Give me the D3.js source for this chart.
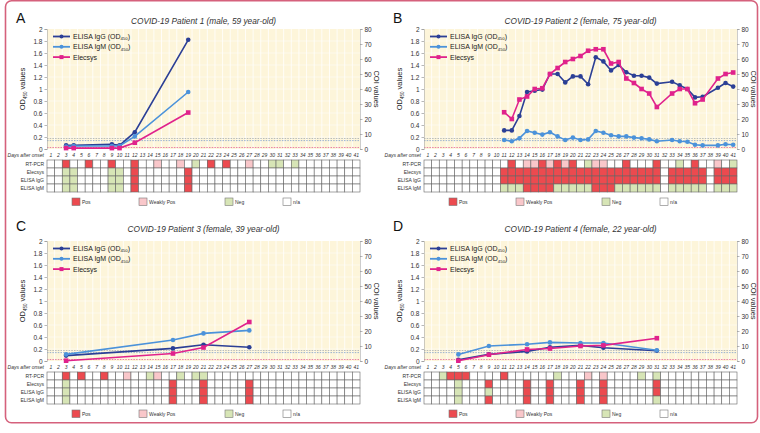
<!DOCTYPE html>
<html>
<head>
<meta charset="utf-8">
<script src="https://cdn.jsdelivr.net/npm/d3@7"></script>
<style>
  body { margin: 0; background: #fff; }
  svg { display: block; font-family: "Liberation Sans", Arial, sans-serif; }
</style>
</head>
<body>
<div id="chart"></div>
<script>
// Day categories (x axis / status grid columns)
var dayTicks = d3.range(1, 42);
var odTicks = [0, 0.2, 0.4, 0.6, 0.8, 1, 1.2, 1.4, 1.6, 1.8, 2];
var coiTicks = [0, 10, 20, 30, 40, 50, 60, 70, 80];
var rowNames = ['RT-PCR', 'Elecsys', 'ELISA IgG', 'ELISA IgM'];

// Patient 1
var aDays = [3, 4, 9, 10, 12, 19];
var aIgG = [0.06, 0.06, 0.08, 0.06, 0.28, 1.82];
var aIgM = [0.04, 0.05, 0.05, 0.05, 0.21, 0.95];
var aElecsys = [0.6, 0.6, 0.6, 0.6, 4.2, 24.3];
var aRtPcr = {P: [3, 6, 9, 12, 22, 24], W: [15, 18, 27], N: [20, 30, 31, 33]};
var aEcl = {P: [12, 19], W: [], N: [3, 4, 9, 10]};
var aGridIgG = {P: [12, 19], W: [], N: [3, 4, 9, 10]};
var aGridIgM = {P: [12, 19], W: [], N: [3, 4, 9, 10]};

// Patient 2
var bDays = [11, 12, 13, 14, 15, 16, 17, 18, 19, 20, 21, 22, 23, 24, 25, 26, 27, 28, 29, 30, 31, 33, 34, 35, 36, 37, 39, 40, 41];
var bIgG = [0.31, 0.31, 0.55, 0.95, 0.97, 0.99, 1.25, 1.25, 1.11, 1.21, 1.21, 1.08, 1.53, 1.46, 1.31, 1.40, 1.28, 1.22, 1.22, 1.19, 1.09, 1.12, 1.06, 1.0, 0.86, 0.87, 1.02, 1.10, 1.04];
var bIgM = [0.15, 0.13, 0.18, 0.30, 0.27, 0.24, 0.28, 0.21, 0.15, 0.19, 0.15, 0.16, 0.30, 0.27, 0.23, 0.21, 0.21, 0.19, 0.18, 0.16, 0.13, 0.15, 0.13, 0.12, 0.07, 0.06, 0.06, 0.08, 0.07];
var bElecsys = [24.5, 20, 33, 35, 40, 40.5, 50, 54, 58, 60, 62, 65.5, 66.5, 66.5, 57, 58, 47, 44, 40, 37, 28, 37, 40, 40, 30.5, 33, 47, 50, 51];
var bRtPcr = {P: [12, 16, 18, 20, 27, 31, 36], W: [14, 15, 17, 19, 23, 24, 39], N: [22, 34, 41]};
var bEcl = {P: [11, 12, 13, 14, 15, 16, 17, 18, 19, 20, 21, 22, 23, 24, 25, 26, 27, 28, 29, 30, 31, 33, 34, 35, 36, 37, 39, 40, 41], W: [], N: []};
var bGridIgG = {P: [11, 12, 13, 14, 15, 16, 17, 18, 19, 20, 21, 22, 23, 24, 25, 26, 27, 28, 29, 30, 31, 33, 34, 35, 36, 37, 39, 40, 41], W: [], N: []};
var bGridIgM = {P: [14, 15, 16, 17, 23, 24, 25], W: [], N: [11, 12, 13, 18, 19, 20, 21, 22, 26, 27, 28, 29, 30, 31, 33, 34, 35, 36, 37, 39, 40, 41]};

// Patient 3
var cDays = [3, 17, 21, 27];
var cIgG = [0.09, 0.21, 0.27, 0.23];
var cIgM = [0.11, 0.35, 0.46, 0.51];
var cElecsys = [0.2, 5, 9, 26];
var cRtPcr = {P: [3, 5, 8], W: [11, 15], N: [14, 18, 20, 21]};
var cEcl = {P: [17, 21, 27], W: [], N: [3]};
var cGridIgG = {P: [17, 21, 27], W: [], N: [3]};
var cGridIgM = {P: [17, 21, 27], W: [], N: [3]};

// Patient 4
var dDays = [5, 9, 14, 17, 21, 24, 31];
var dIgG = [0.02, 0.11, 0.16, 0.23, 0.26, 0.22, 0.17];
var dIgM = [0.11, 0.25, 0.28, 0.31, 0.30, 0.30, 0.18];
var dElecsys = [0.2, 4.2, 7.7, 8.3, 10, 10.4, 15.2];
var dRtPcr = {P: [4, 5, 6, 11], W: [22, 24], N: [3, 18, 29, 31]};
var dEcl = {P: [9, 14, 17, 21, 24, 31], W: [], N: [5]};
var dGridIgG = {P: [14, 17, 21, 24, 31], W: [], N: [5, 9]};
var dGridIgM = {P: [9, 14, 17, 21, 24], W: [], N: [5, 31]};

var panels = [
  {letter: 'A', title: 'COVID-19 Patient 1 (male, 59 year-old)', ox: 0, oy: 0, titleY: 24,
   days: aDays, igg: aIgG, igm: aIgM, ecl: aElecsys, grid: [aRtPcr, aEcl, aGridIgG, aGridIgM]},
  {letter: 'B', title: 'COVID-19 Patient 2 (female, 75 year-old)', ox: 377, oy: 0, titleY: 24,
   days: bDays, igg: bIgG, igm: bIgM, ecl: bElecsys, grid: [bRtPcr, bEcl, bGridIgG, bGridIgM]},
  {letter: 'C', title: 'COVID-19 Patient 3 (female, 39 year-old)', ox: 0, oy: 212, titleY: 20,
   days: cDays, igg: cIgG, igm: cIgM, ecl: cElecsys, grid: [cRtPcr, cEcl, cGridIgG, cGridIgM]},
  {letter: 'D', title: 'COVID-19 Patient 4 (female, 22 year-old)', ox: 377, oy: 212, titleY: 20,
   days: dDays, igg: dIgG, igm: dIgM, ecl: dElecsys, grid: [dRtPcr, dEcl, dGridIgG, dGridIgM]}
];

var colors = {igg: '#2b3f96', igm: '#4b92da', ecl: '#e0228c'};
var statusFill = {P: '#ec4a4f', W: '#f9c7ca', N: '#d7e5b6'};

var svg = d3.select('#chart').append('svg')
  .attr('width', 760)
  .attr('height', 433);

svg.append('rect')
  .attr('x', 5.5).attr('y', 0.8)
  .attr('width', 752).attr('height', 422)
  .attr('rx', 6)
  .attr('fill', 'none')
  .attr('stroke', '#d5617c')
  .attr('stroke-width', 1.6);

var margin = {left: 47, right: 360, top: 29, bottom: 149};

function drawPanel(p) {
  var g = svg.append('g').attr('transform', 'translate(' + p.ox + ',' + p.oy + ')');

  var x = d3.scaleBand().domain(dayTicks).range([margin.left, margin.right]);
  var bw = x.bandwidth();
  var yL = d3.scaleLinear().domain([0, 2]).range([margin.bottom, margin.top]);
  var yR = d3.scaleLinear().domain([0, 80]).range([margin.bottom, margin.top]);
  var cx = function(day) { return x(day) + bw / 2; };

  // panel letter + title
  g.append('text')
    .attr('x', 16).attr('y', p.titleY - 1)
    .attr('font-size', 14).attr('fill', '#111')
    .text(p.letter);
  g.append('text')
    .attr('x', (margin.left + margin.right) / 2).attr('y', p.titleY)
    .attr('text-anchor', 'middle')
    .attr('font-size', 8.3).attr('font-style', 'italic').attr('fill', '#333')
    .text(p.title);

  // plot background
  g.append('rect')
    .attr('x', margin.left).attr('y', margin.top)
    .attr('width', margin.right - margin.left).attr('height', margin.bottom - margin.top)
    .attr('fill', '#fdf5da');

  g.append('g').selectAll('line.v')
    .data(dayTicks.slice(1))
    .enter().append('line')
    .attr('x1', function(d) { return x(d); })
    .attr('x2', function(d) { return x(d); })
    .attr('y1', margin.top).attr('y2', margin.bottom)
    .attr('stroke', '#fff').attr('stroke-width', 0.8);

  g.append('g').selectAll('line.h')
    .data(odTicks.slice(1, -1))
    .enter().append('line')
    .attr('x1', margin.left).attr('x2', margin.right)
    .attr('y1', function(d) { return yL(d); })
    .attr('y2', function(d) { return yL(d); })
    .attr('stroke', '#fff').attr('stroke-width', 0.5);

  // cut-off lines
  g.append('line')
    .attr('x1', margin.left).attr('x2', margin.right)
    .attr('y1', yL(0.175)).attr('y2', yL(0.175))
    .attr('stroke', '#9aa3ad').attr('stroke-width', 0.7).attr('stroke-dasharray', '1.5 1.2');
  g.append('line')
    .attr('x1', margin.left).attr('x2', margin.right)
    .attr('y1', yL(0.14)).attr('y2', yL(0.14))
    .attr('stroke', '#6f94c8').attr('stroke-width', 0.7).attr('stroke-dasharray', '1.5 1.2');
  g.append('line')
    .attr('x1', margin.left).attr('x2', margin.right)
    .attr('y1', yR(1)).attr('y2', yR(1))
    .attr('stroke', '#e0508c').attr('stroke-width', 0.7).attr('stroke-dasharray', '1.5 1.2');

  // axes
  var left = g.append('g')
    .attr('transform', 'translate(' + margin.left + ',0)')
    .call(d3.axisLeft(yL).tickValues(odTicks).tickSize(2.5).tickPadding(2)
      .tickFormat(function(d) { return +d.toFixed(1); }));
  var right = g.append('g')
    .attr('transform', 'translate(' + margin.right + ',0)')
    .call(d3.axisRight(yR).tickValues(coiTicks).tickSize(2.5).tickPadding(2));
  [left, right].forEach(function(ax) {
    ax.select('.domain').attr('stroke', '#aaa').attr('stroke-width', 0.6);
    ax.selectAll('.tick line').attr('stroke', '#888').attr('stroke-width', 0.6);
    ax.selectAll('.tick text').attr('font-size', 6.5).attr('fill', '#333')
      .attr('font-family', '"Liberation Sans", Arial, sans-serif');
  });

  // axis titles
  var odTitle = g.append('text')
    .attr('transform', 'translate(25,' + (margin.top + margin.bottom) / 2 + ') rotate(-90)')
    .attr('text-anchor', 'middle')
    .attr('font-size', 7.5).attr('fill', '#222');
  odTitle.append('tspan').text('OD');
  odTitle.append('tspan').attr('font-size', 4.5).attr('dy', 2).text('450');
  odTitle.append('tspan').attr('dy', -2).text(' values');

  g.append('text')
    .attr('transform', 'translate(374,' + (margin.top + margin.bottom) / 2 + ') rotate(90)')
    .attr('text-anchor', 'middle')
    .attr('font-size', 7.5).attr('fill', '#222')
    .text('COI values');

  // series
  var series = [
    {key: 'igg', values: p.igg, scale: yL, shape: 'circle'},
    {key: 'igm', values: p.igm, scale: yL, shape: 'circle'},
    {key: 'ecl', values: p.ecl, scale: yR, shape: 'square'}
  ];

  series.forEach(function(s) {
    var pts = p.days.map(function(d, i) { return {day: d, v: s.values[i]}; });
    var line = d3.line()
      .x(function(d) { return cx(d.day); })
      .y(function(d) { return s.scale(d.v); });

    g.append('path')
      .datum(pts)
      .attr('fill', 'none')
      .attr('stroke', colors[s.key])
      .attr('stroke-width', 1.6)
      .attr('d', line);

    if (s.shape === 'circle') {
      g.append('g').selectAll('circle')
        .data(pts)
        .enter().append('circle')
        .attr('cx', function(d) { return cx(d.day); })
        .attr('cy', function(d) { return s.scale(d.v); })
        .attr('r', 2.3)
        .attr('fill', colors[s.key]);
    } else {
      g.append('g').selectAll('rect')
        .data(pts)
        .enter().append('rect')
        .attr('x', function(d) { return cx(d.day) - 2.3; })
        .attr('y', function(d) { return s.scale(d.v) - 2.3; })
        .attr('width', 4.6).attr('height', 4.6)
        .attr('fill', colors[s.key]);
    }
  });

  // legend inside plot
  var legendItems = [
    {key: 'igg', label: 'ELISA IgG (OD', sub: '450', shape: 'circle'},
    {key: 'igm', label: 'ELISA IgM (OD', sub: '450', shape: 'circle'},
    {key: 'ecl', label: 'Elecsys', sub: null, shape: 'square'}
  ];
  legendItems.forEach(function(it, i) {
    var ly = 36.5 + i * 10.3;
    g.append('line')
      .attr('x1', 53).attr('x2', 70).attr('y1', ly).attr('y2', ly)
      .attr('stroke', colors[it.key]).attr('stroke-width', 1.8);
    if (it.shape === 'circle') {
      g.append('circle').attr('cx', 61.5).attr('cy', ly).attr('r', 2).attr('fill', colors[it.key]);
    } else {
      g.append('rect').attr('x', 59.5).attr('y', ly - 2).attr('width', 4).attr('height', 4).attr('fill', colors[it.key]);
    }
    var t = g.append('text')
      .attr('x', 73).attr('y', ly + 2.4)
      .attr('font-size', 7).attr('fill', '#222');
    t.append('tspan').text(it.label);
    if (it.sub) {
      t.append('tspan').attr('font-size', 4.3).attr('dy', 1.5).text(it.sub);
      t.append('tspan').attr('dy', -1.5).text(')');
    }
  });

  // day labels
  g.append('text')
    .attr('x', 44).attr('y', 157)
    .attr('text-anchor', 'end')
    .attr('font-size', 5).attr('font-style', 'italic').attr('fill', '#333')
    .text('Days after onset');
  g.append('g').selectAll('text')
    .data(dayTicks)
    .enter().append('text')
    .attr('x', function(d) { return cx(d); })
    .attr('y', 157)
    .attr('text-anchor', 'middle')
    .attr('font-size', 5).attr('font-style', 'italic').attr('fill', '#333')
    .text(function(d) { return d; });

  // status grid
  var gridTop = 160, rowH = 8;
  rowNames.forEach(function(name, r) {
    var status = p.grid[r];
    g.append('text')
      .attr('x', 44).attr('y', gridTop + r * rowH + 5.6)
      .attr('text-anchor', 'end')
      .attr('font-size', 5).attr('fill', '#333')
      .text(name);
    g.append('g').selectAll('rect')
      .data(dayTicks)
      .enter().append('rect')
      .attr('x', function(d) { return x(d); })
      .attr('y', gridTop + r * rowH)
      .attr('width', bw).attr('height', rowH)
      .attr('fill', function(d) {
        if (status.P.indexOf(d) >= 0) return statusFill.P;
        if (status.W.indexOf(d) >= 0) return statusFill.W;
        if (status.N.indexOf(d) >= 0) return statusFill.N;
        return '#fff';
      })
      .attr('stroke', '#666').attr('stroke-width', 0.6);
  });

  // status legend
  var statusLegend = [
    {label: 'Pos', fill: statusFill.P, x: 72},
    {label: 'Weakly Pos', fill: statusFill.W, x: 139},
    {label: 'Neg', fill: statusFill.N, x: 225},
    {label: 'n/a', fill: '#fff', x: 283}
  ];
  statusLegend.forEach(function(it) {
    g.append('rect')
      .attr('x', it.x).attr('y', 198)
      .attr('width', 8).attr('height', 7.5)
      .attr('fill', it.fill).attr('stroke', '#777').attr('stroke-width', 0.6);
    g.append('text')
      .attr('x', it.x + 10).attr('y', 203.8)
      .attr('font-size', 5).attr('fill', '#333')
      .text(it.label);
  });
}

panels.forEach(drawPanel);
</script>
</body>
</html>
